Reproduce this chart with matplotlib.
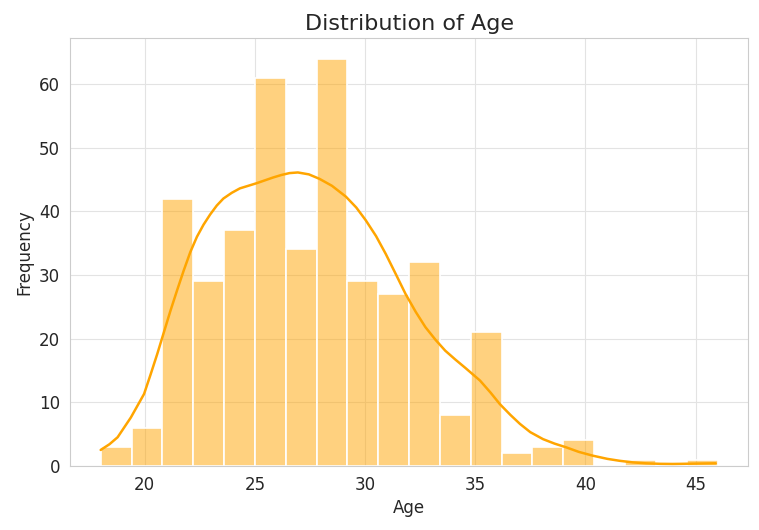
import numpy as np
import matplotlib
matplotlib.use('Agg')
import matplotlib.pyplot as plt
import seaborn as sns

sns.set_style('whitegrid')
plt.rcParams['font.family'] = ['DejaVu Sans']

# histogram bins (20 bins from 18 to 46)
bin_edges = [18.0, 19.4, 20.8, 22.2, 23.6, 25.0, 26.4, 27.8, 29.2, 30.6, 32.0,
             33.4, 34.8, 36.2, 37.6, 39.0, 40.4, 41.8, 43.2, 44.6, 46.0]
counts = [3, 6, 42, 29, 37, 61, 34, 64, 29, 27, 32, 8, 21, 2, 3, 4, 0, 1, 0, 1]

# kde curve (scaled to counts)
kde_x = [18.0, 18.4, 18.77, 19.37, 19.97, 20.27, 20.57, 20.87, 21.17, 21.47,
         21.77, 22.07, 22.37, 22.67, 22.97, 23.27, 23.57, 23.95, 24.32, 25.07,
         25.82, 26.2, 26.57, 26.95, 27.45, 27.93, 28.5, 29.13, 29.6, 30.03,
         30.5, 30.94, 31.4, 31.84, 32.3, 32.74, 33.2, 33.64, 34.1, 34.55,
         35.22, 35.7, 36.12, 36.6, 37.03, 37.5, 38.08, 38.6, 39.14, 39.7,
         40.34, 41.0, 41.55, 42.15, 42.75, 43.4, 43.96, 44.4, 44.86, 45.4, 45.92]
kde_y = [2.5, 3.4, 4.5, 7.6, 11.3, 14.4, 17.6, 21.0, 24.4, 27.6,
         30.7, 33.6, 36.0, 37.9, 39.5, 40.9, 42.0, 42.9, 43.6, 44.4,
         45.3, 45.7, 46.0, 46.1, 45.8, 45.1, 44.0, 42.3, 40.6, 38.6,
         36.1, 33.3, 30.1, 27.0, 24.2, 21.8, 19.8, 18.1, 16.7, 15.4,
         13.4, 11.5, 9.7, 8.0, 6.6, 5.3, 4.2, 3.5, 2.9, 2.2,
         1.6, 1.1, 0.8, 0.55, 0.4, 0.32, 0.3, 0.32, 0.35, 0.38, 0.4]

fig = plt.figure(figsize=(7.59, 5.3), dpi=100)
ax = fig.add_axes([0.092, 0.121, 0.894, 0.807])
ax.grid(color='#e3e3e3')

lefts = bin_edges[:-1]
widths = np.diff(bin_edges)
ax.bar(lefts, counts, width=widths, align='edge', color=(1.0, 0.647, 0.0, 0.5),
       edgecolor='white', linewidth=1.2)
ax.plot(kde_x, kde_y, color='orange', linewidth=1.8)

ax.set_xlim(16.6, 47.4)
ax.set_ylim(0, 67.2)
ax.set_xticks([20, 25, 30, 35, 40, 45])
ax.set_title('Distribution of Age', fontsize=16)
ax.set_xlabel('Age', fontsize=12)
ax.set_ylabel('Frequency', fontsize=12)
ax.tick_params(labelsize=12)
for s in ax.spines.values():
    s.set_color('#cccccc')

plt.savefig('out.png', dpi=100)
